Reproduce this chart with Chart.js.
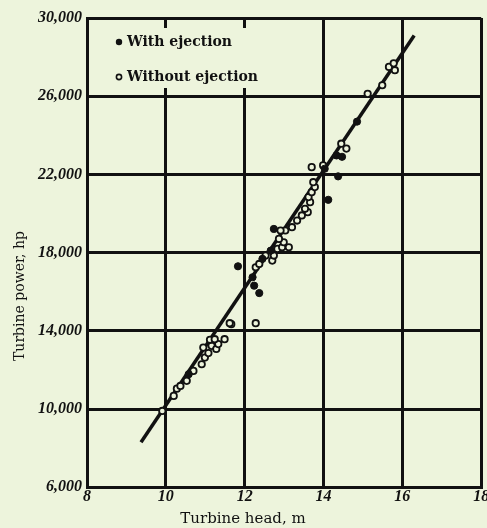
<!DOCTYPE html>
<html><head><meta charset="utf-8">
<script src="https://cdn.jsdelivr.net/npm/chart.js@4"></script>
<style>html,body{margin:0;padding:0;background:#edf4dc;overflow:hidden;}</style>
</head><body>
<canvas id="c" width="487" height="528"></canvas>
<script>
const seriesNames = ['With ejection', 'Without ejection'];
const xTitle = 'Turbine head, m';
const yTitle = 'Turbine power, hp';

const xTicks = [8, 10, 12, 14, 16, 18];
const xTickLabels = ['8', '10', '12', '14', '16', '18'];
const yTicks = [6000, 10000, 14000, 18000, 22000, 26000, 30000];
const yTickLabels = ['6,000', '10,000', '14,000', '18,000', '22,000', '26,000', '30,000'];

// With ejection (filled dots)
const withHead  = [10.58, 11.83, 12.2, 12.24, 12.37, 12.45, 12.66, 12.74, 14.12, 14.03, 14.37, 14.33, 14.47, 14.85];
const withPower = [11780, 17300, 16740, 16310, 15930, 17680, 18100, 19210, 20700, 22290, 21900, 22970, 22900, 24700];

// Without ejection (open circles)
const withoutHead  = [9.91, 10.2, 10.28, 10.37, 10.53, 10.7, 10.91, 10.99, 10.95, 11.08, 11.16, 11.12, 11.28, 11.33, 11.24, 11.49, 11.66,
                      11.62, 12.28, 12.28, 12.37, 12.53, 12.7, 12.74, 12.83, 12.95, 13.12, 12.99, 12.87, 13.03, 12.91, 13.2, 13.33, 13.45, 13.6,
                      13.53, 13.66, 13.62, 13.7, 13.78, 13.74, 13.7, 13.99, 14.45, 14.58, 15.12, 15.49, 15.66, 15.78, 15.81];
const withoutPower = [9900, 10670, 11040, 11180, 11440, 11950, 12290, 12630, 13140, 12860, 13230, 13540, 13070, 13320, 13570, 13570, 14340,
                      14390, 14390, 17250, 17420, 17850, 17590, 17850, 18190, 18270, 18270, 18530, 18700, 19130, 19130, 19300, 19640, 19900, 20070,
                      20240, 20580, 20840, 21090, 21350, 21600, 22370, 22460, 23570, 23320, 26120, 26560, 27500, 27680, 27330];

// Fitted line end points
const fitHead  = [9.37, 16.3];
const fitPower = [8300, 29100];

const BG = '#edf4dc';
const INK = '#111111';

const toPts = (xs, ys) => xs.map((x, i) => ({x: x, y: ys[i]}));

const paperPlugin = {
  id: 'paper',
  beforeDraw(chart) {
    const ctx = chart.ctx;
    ctx.save();
    ctx.fillStyle = BG;
    ctx.fillRect(0, 0, chart.width, chart.height);
    ctx.restore();
  },
  beforeDatasetsDraw(chart) {
    const ctx = chart.ctx, ca = chart.chartArea;
    ctx.save();
    ctx.fillStyle = BG;
    ctx.fillRect(ca.left + 8, ca.top + 10, 182, 60);
    ctx.restore();
  },
  afterDatasetsDraw(chart) {
    const ctx = chart.ctx, ca = chart.chartArea;
    ctx.save();
    ctx.fillStyle = INK;
    ctx.strokeStyle = INK;
    ctx.font = 'bold 14px "DejaVu Serif"';
    ctx.textBaseline = 'middle';
    ctx.textAlign = 'left';
    const rows = [ca.top + 24, ca.top + 59];
    // filled marker
    ctx.beginPath(); ctx.arc(ca.left + 32, rows[0], 3.2, 0, Math.PI * 2); ctx.fill();
    ctx.fillText(seriesNames[0], ca.left + 40, rows[0]);
    // open marker
    ctx.lineWidth = 1.6;
    ctx.beginPath(); ctx.arc(ca.left + 32, rows[1], 2.6, 0, Math.PI * 2); ctx.stroke();
    ctx.fillText(seriesNames[1], ca.left + 40, rows[1]);
    // y axis title
    ctx.translate(20, 296);
    ctx.rotate(-Math.PI / 2);
    ctx.textAlign = 'center';
    ctx.font = '14px "DejaVu Serif"';
    ctx.fillText(yTitle, 0, 0);
    ctx.restore();
  }
};

const tickFont = {family: '"Liberation Serif"', style: 'italic', weight: 'bold', size: 16};

new Chart(document.getElementById('c'), {
  type: 'scatter',
  data: {
    datasets: [
      {
        label: seriesNames[0],
        data: toPts(withHead, withPower),
        pointStyle: 'circle',
        pointRadius: 3.6,
        backgroundColor: INK,
        borderColor: INK,
        borderWidth: 1,
        order: 1
      },
      {
        label: seriesNames[1],
        data: toPts(withoutHead, withoutPower),
        pointStyle: 'circle',
        pointRadius: 3.2,
        backgroundColor: BG,
        borderColor: INK,
        borderWidth: 1.8,
        order: 2
      },
      {
        type: 'line',
        label: 'fit',
        data: toPts(fitHead, fitPower),
        borderColor: INK,
        borderWidth: 3.5,
        pointRadius: 0,
        fill: false,
        order: 3
      }
    ]
  },
  options: {
    responsive: false,
    devicePixelRatio: 1,
    animation: false,
    layout: {padding: {top: 18, left: 0, right: 1, bottom: 0}},
    plugins: {
      legend: {display: false},
      tooltip: {enabled: false},
      title: {
        display: true,
        position: 'bottom',
        text: xTitle,
        color: INK,
        font: {family: '"DejaVu Serif"', size: 15, weight: 'normal'},
        padding: {top: 0, bottom: 0}
      }
    },
    scales: {
      x: {
        type: 'linear',
        min: 8, max: 18,
        afterBuildTicks: s => { s.ticks = xTicks.map(v => ({value: v})); },
        afterFit: s => { s.height = 22.8; s.paddingLeft = 0; s.paddingRight = 0; },
        ticks: {
          color: INK, font: tickFont, padding: 0, maxRotation: 0, autoSkip: false,
          callback: v => xTickLabels[xTicks.indexOf(v)]
        },
        grid: {color: INK, lineWidth: 3, drawTicks: false},
        border: {display: true, color: INK, width: 3}
      },
      y: {
        type: 'linear',
        min: 6000, max: 30000,
        afterBuildTicks: s => { s.ticks = yTicks.map(v => ({value: v})); },
        afterFit: s => { s.width = 87; s.paddingTop = 0; s.paddingBottom = 0; },
        ticks: {
          color: INK, font: tickFont, padding: 5, autoSkip: false,
          callback: v => yTickLabels[yTicks.indexOf(v)]
        },
        grid: {color: INK, lineWidth: 3, drawTicks: false},
        border: {display: true, color: INK, width: 3}
      }
    }
  },
  plugins: [paperPlugin]
});
</script>
</body></html>
